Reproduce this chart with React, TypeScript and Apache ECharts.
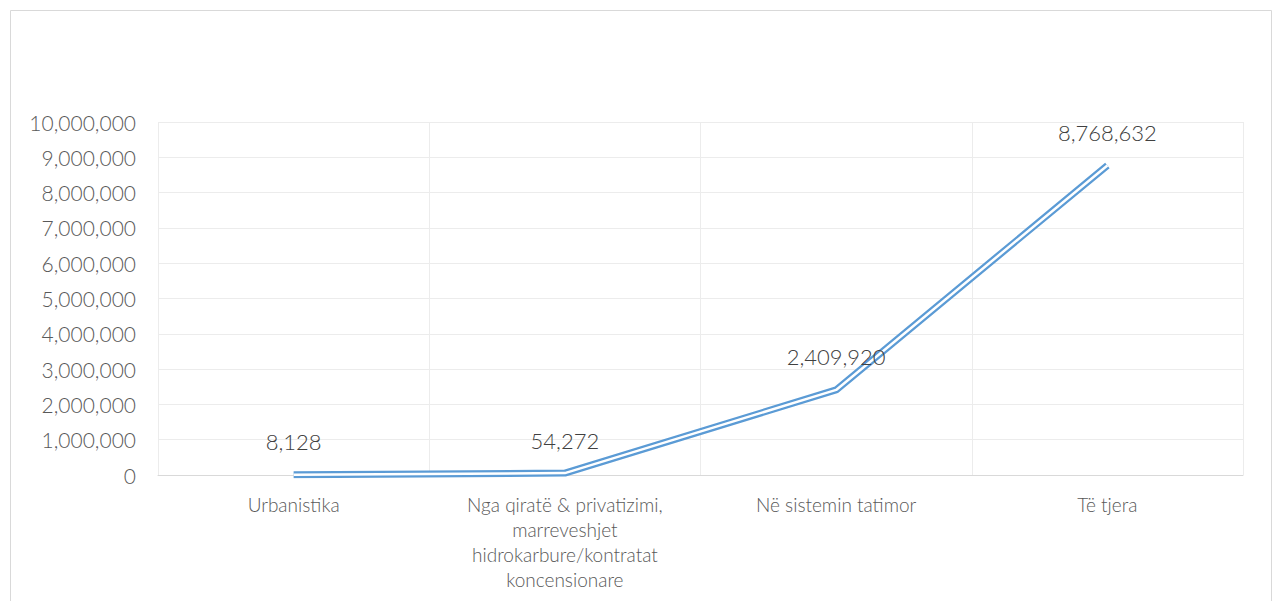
import React, { useEffect, useRef } from "react";
import * as echarts from "echarts";

const categories = [
  "Urbanistika",
  "Nga qiratë & privatizimi,\nmarreveshjet\nhidrokarbure/kontratat\nkoncensionare",
  "Në sistemin tatimor",
  "Të tjera",
];
const values = [8128, 54272, 2409920, 8768632];
const yTicks = { min: 0, max: 10000000, interval: 1000000 };

const FONT = "Lato";

export default function App() {
  const ref = useRef<HTMLDivElement>(null);
  useEffect(() => {
    if (!ref.current) return;
    const chart = echarts.init(ref.current, null, { renderer: "svg" });
    const fmt = (v: number) => Number(v).toLocaleString("en-US");
    chart.setOption({
      animation: false,
      backgroundColor: "#ffffff",
      textStyle: { fontFamily: FONT },
      graphic: [
        {
          type: "rect",
          shape: { x: 10.5, y: 10.5, width: 1261, height: 640 },
          style: { fill: "none", stroke: "#d9d9d9", lineWidth: 1 },
          silent: true,
        },
      ],
      grid: { left: 158, right: 31, top: 122, bottom: 126, containLabel: false },
      xAxis: {
        type: "category",
        data: categories,
        boundaryGap: true,
        axisLine: { show: true, lineStyle: { color: "#d9d9d9", width: 1 } },
        axisTick: { show: false },
        splitLine: { show: true, lineStyle: { color: "#ececec", width: 1 } },
        axisLabel: {
          color: "#595959",
          fontSize: 19,
          fontFamily: FONT,
          fontWeight: 300,
          lineHeight: 25,
          margin: 17,
          interval: 0,
          align: "center",
        },
      },
      yAxis: {
        type: "value",
        min: yTicks.min,
        max: yTicks.max,
        interval: yTicks.interval,
        axisLine: { show: false },
        axisTick: { show: false },
        splitLine: { show: true, lineStyle: { color: "#ececec", width: 1 } },
        axisLabel: {
          color: "#595959",
          fontSize: 21,
          fontFamily: FONT,
          fontWeight: 300,
          margin: 22,
          formatter: (v: number) => fmt(v),
        },
      },
      series: [
        {
          type: "line",
          data: values,
          symbol: "circle",
          symbolSize: 0,
          showSymbol: true,
          lineStyle: { color: "#5B9BD5", width: 7 },
          itemStyle: { color: "#5B9BD5" },
          z: 2,
        },
        {
          type: "line",
          data: values,
          symbol: "circle",
          symbolSize: 0,
          showSymbol: true,
          lineStyle: { color: "#ffffff", width: 2.5 },
          itemStyle: { color: "#ffffff" },
          z: 3,
          label: {
            show: true,
            position: "top",
            distance: 22,
            color: "#404040",
            fontSize: 22,
            fontFamily: FONT,
            fontWeight: 300,
            formatter: (p: any) => fmt(p.value),
          },
        },
      ],
    });
    return () => chart.dispose();
  }, []);
  return (
    <div
      ref={ref}
      style={{ position: "absolute", left: 0, top: 0, width: 1274, height: 601 }}
    />
  );
}
